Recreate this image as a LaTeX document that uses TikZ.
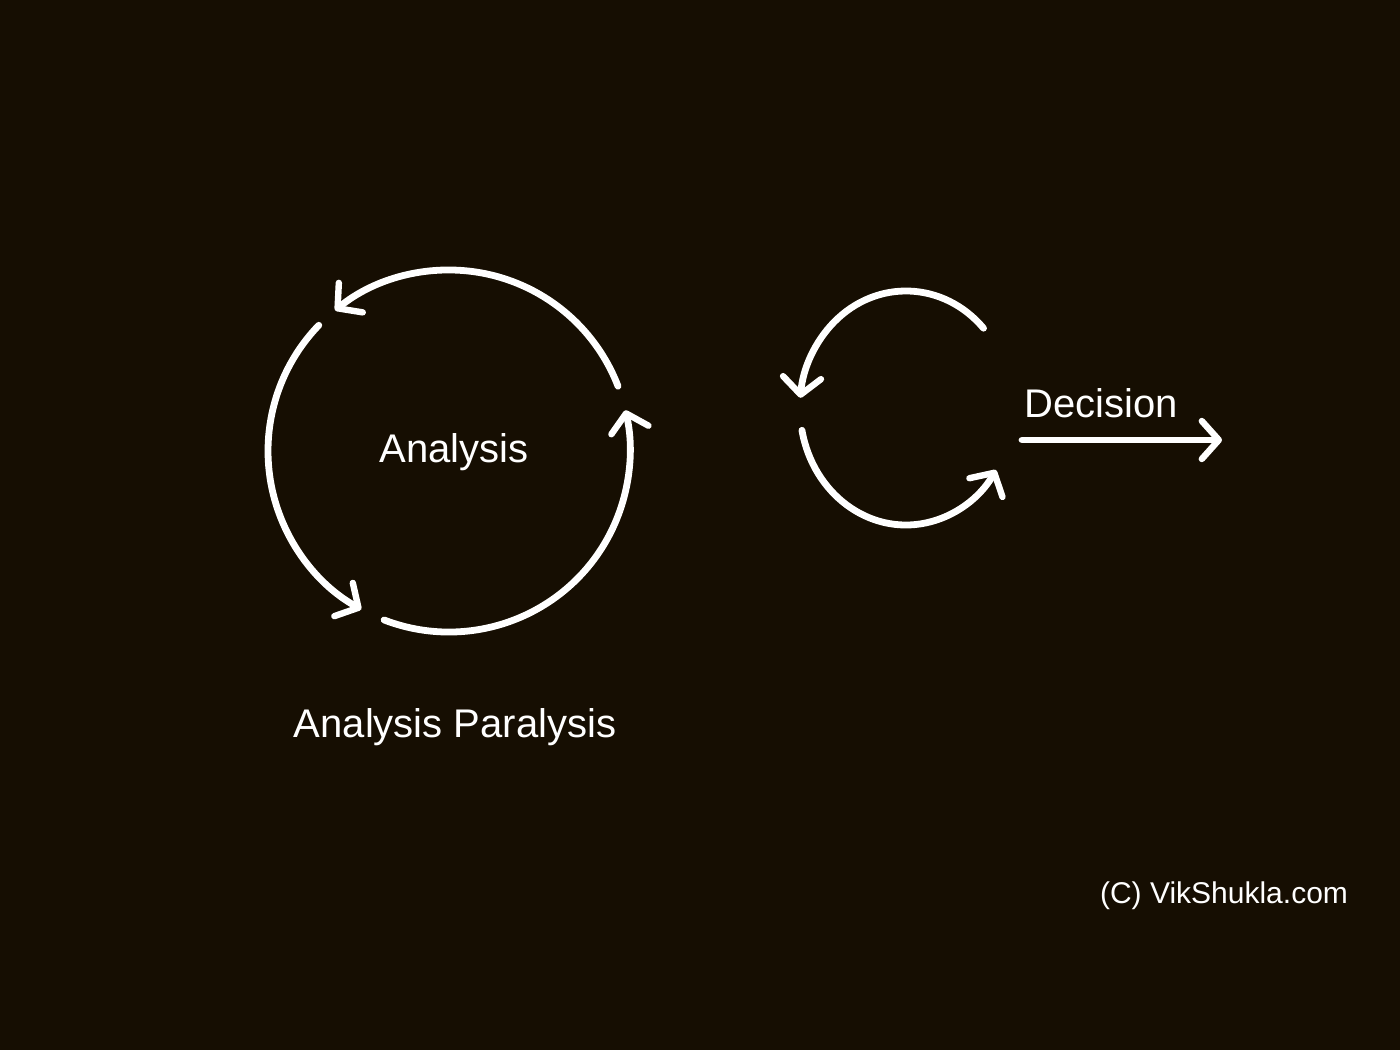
\documentclass[tikz,border=0pt]{standalone}
\usepackage{fontspec}
\setmainfont{Liberation Sans}
\usetikzlibrary{arrows.meta,calc}
\definecolor{bg}{RGB}{22,14,2}
\begin{document}
\begin{tikzpicture}[x=0.5pt,y=0.5pt,
  loopline/.style={draw=white, line width=3.4pt, line cap=round,
    -{Straight Barb[length=8.5pt,width=19pt,line width=3.2pt,round]}},
  lbl/.style={text=white, font=\fontsize{20}{24}\selectfont, inner sep=0pt, anchor=base},
  small/.style={text=white, font=\fontsize{15}{18}\selectfont, inner sep=0pt, anchor=base}]
\fill[bg] (0,0) rectangle (1400,1050);
\useasboundingbox (0,0) rectangle (1400,1050);
% big loop
\coordinate (c1) at (449,599);
\coordinate (p1) at ($(c1)+(21:181)$);
\coordinate (p2) at ($(c1)+(136:181)$);
\coordinate (p3) at ($(c1)+(249:181)$);
\draw[loopline] (p1) arc[start angle=21,end angle=129,radius=181];
\draw[loopline] (p2) arc[start angle=136,end angle=241,radius=181];
\draw[loopline] (p3) arc[start angle=249,end angle=373,radius=181];
\node[lbl] (analysis) at (454,587) {Analysis};
\node[lbl] (paralysis) at (455,313) {Analysis Paralysis};
% small loop
\coordinate (c2) at (906,642);
\coordinate (q1) at ($(c2)+({106*cos(43)},{117*sin(43)})$);
\coordinate (q2) at ($(c2)+({106*cos(191)},{117*sin(191)})$);
\draw[loopline] (q1) arc[start angle=43,end angle=175,x radius=106,y radius=117];
\draw[loopline] (q2) arc[start angle=191,end angle=328,x radius=106,y radius=117];
% decision arrow
\coordinate (ds) at (1022,610);
\coordinate (de) at (1222,610);
\draw[loopline] (ds) -- (de);
\node[lbl] (decision) at (1101,632) {Decision};
\node[small] (copy) at (1224,147) {(C) VikShukla.com};
\end{tikzpicture}
\end{document}
